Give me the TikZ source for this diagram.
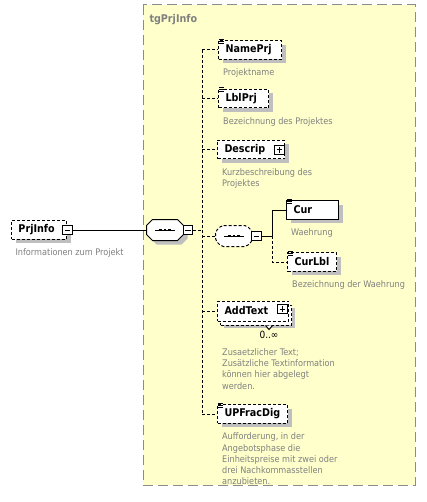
\documentclass[tikz,border=0pt]{standalone}
\usepackage{fontspec}
\setmainfont{DejaVu Sans Condensed}
\usepackage{xcolor}
\usepackage{tikz}
\usetikzlibrary{positioning,shadows}

\definecolor{grpfill}{HTML}{FFFFCC}
\definecolor{grpline}{HTML}{8C8C8C}

\begin{document}
\begin{tikzpicture}[x=0.75pt, y=-0.75pt, line width=0.75pt,
    box/.style={draw, fill=white, dash pattern=on 2.25pt off 1.5pt, align=left,
          minimum height=14pt, inner xsep=5.25pt, inner ysep=0pt,
          font=\fontsize{8}{9}\selectfont\bfseries},
    elem/.style={box, general shadow={fill=black!25, shadow xshift=3pt, shadow yshift=-3pt}},
    must/.style={elem, solid},
    multi/.style={box,
          general shadow={fill=black!25, shadow xshift=5pt, shadow yshift=-5.5pt},
          general shadow={draw, fill=white, dash pattern=on 2.25pt off 1.5pt,
                          shadow xshift=2.25pt, shadow yshift=-3pt}},
    desc/.style={font=\fontsize{6.8}{8.4}\selectfont, text=black!50, align=left, inner sep=0pt},
    tgl/.style={draw, fill=white, solid, minimum size=6.8pt, inner sep=0pt},
    seqbox/.style={minimum width=27pt, minimum height=15pt, inner sep=0pt},
    conn/.style={dash pattern=on 2.25pt off 1.5pt}]
        \useasboundingbox (0,0) rectangle (426,502);

        % Group
        \draw[grpline, fill=grpfill, dash pattern=on 7.5pt off 3.75pt] (143,5) rectangle (415,485);
        \node[anchor=west, inner sep=0pt, text=black!50, font=\fontsize{8}{9}\selectfont\bfseries]
              (grp) at (149,20) {tgPrjInfo};

        % Root
        \node[elem, anchor=west, text width=30.75pt] (prj) at (11,230) {PrjInfo};
        \node[desc, below right=6.5pt and 3pt of prj.south west] {Informationen zum Projekt};

        % Sequences
        \node[seqbox] (seq1) at (165,230) {};
        \node[seqbox] (seq2) at (234,236) {};
        \fill[black!25, transform canvas={shift={(3pt,-3pt)}}]
            ([xshift=4.5pt]seq1.north west) -- ([xshift=-4.5pt]seq1.north east)
            -- ([yshift=-4.5pt]seq1.north east) -- ([yshift=4.5pt]seq1.south east)
            -- ([xshift=-4.5pt]seq1.south east) -- ([xshift=4.5pt]seq1.south west)
            -- ([yshift=4.5pt]seq1.south west) -- ([yshift=-4.5pt]seq1.north west) -- cycle;
        \draw[fill=white]
            ([xshift=4.5pt]seq1.north west) -- ([xshift=-4.5pt]seq1.north east)
            -- ([yshift=-4.5pt]seq1.north east) -- ([yshift=4.5pt]seq1.south east)
            -- ([xshift=-4.5pt]seq1.south east) -- ([xshift=4.5pt]seq1.south west)
            -- ([yshift=4.5pt]seq1.south west) -- ([yshift=-4.5pt]seq1.north west) -- cycle;
        \draw[conn, fill=white, rounded corners=1.5pt]
            ([xshift=4.5pt]seq2.north west) -- ([xshift=-4.5pt]seq2.north east)
            -- ([yshift=-4.5pt]seq2.north east) -- ([yshift=4.5pt]seq2.south east)
            -- ([xshift=-4.5pt]seq2.south east) -- ([xshift=4.5pt]seq2.south west)
            -- ([yshift=4.5pt]seq2.south west) -- ([yshift=-4.5pt]seq2.north west) -- cycle;

        % Children
        \node[elem, anchor=west, text width=36.75pt] (nameprj) at (218,50) {NamePrj};
        \node[desc, below right=6.5pt and 3.5pt of nameprj.south west] {Projektname};

        \node[elem, anchor=west, text width=27pt] (lblprj) at (218,98.5) {LblPrj};
        \node[desc, below right=6.5pt and 3.5pt of lblprj.south west] {Bezeichnung des Projektes};

        \node[elem, anchor=west, text width=39.75pt] (descrip) at (217,149.5) {Descrip};
        \node[desc, below right=6.5pt and 3.5pt of descrip.south west] {Kurzbeschreibung des\\Projektes};

        \node[must, anchor=west, text width=28.5pt] (cur) at (286,210) {Cur};
        \node[desc, below right=6.5pt and 3.5pt of cur.south west] {Waehrung};

        \node[elem, anchor=west, text width=26.25pt] (curlbl) at (287,262) {CurLbl};
        \node[desc, below right=6.5pt and 3.5pt of curlbl.south west] {Bezeichnung der Waehrung};

        \node[multi, anchor=west, text width=42.75pt, minimum height=15pt] (addtext) at (217,311) {AddText};
        \draw[fill=white] ([xshift=9.4pt, yshift=-3pt]addtext.south) -- ++(3.5,4) -- ++(3.5,-4);
        \node[below=6.5pt of addtext, xshift=12pt, inner sep=0pt,
              font=\fontsize{7.5}{8.5}\selectfont] (occ) {0..∞};
        \node[desc, below right=20pt and 3.5pt of addtext.south west]
              {Zusaetzlicher Text;\\Zusätzliche Textinformation\\können hier abgelegt\\werden.};

        \node[elem, anchor=west, text width=42pt] (upfrac) at (217,414) {UPFracDig};
        \node[desc, below right=6.5pt and 3.5pt of upfrac.south west]
              {Aufforderung, in der\\Angebotsphase die\\Einheitspreise mit zwei oder\\drei Nachkommasstellen\\anzubieten.};

        % Toggles
        \node[tgl] (prjm) at (67.5,230) {};
        \node[tgl] (seq1m) at (188,230) {};
        \node[tgl] (seq2m) at (256.5,236) {};
        \node[tgl] (descp) at (279.5,150) {};
        \node[tgl] (addp) at (282.5,309) {};
        \foreach \t in {prjm,seq1m,seq2m,descp,addp}
            \draw ([xshift=-2.2pt]\t.center) -- ([xshift=2.2pt]\t.center);
        \foreach \t in {descp,addp}
            \draw ([yshift=-2.2pt]\t.center) -- ([yshift=2.2pt]\t.center);

        % Sequence marks
        \foreach \s in {seq1,seq2} {
            \draw ([xshift=-7.5pt]\s.center) -- ([xshift=7.5pt]\s.center);
            \foreach \dx in {-3.4,0,3.4}
                \fill ([xshift=\dx pt]\s.center) ++(-1.4,-1.4) rectangle ++(2.8,2.8);
        }

        % Simple type marks
        \foreach \n in {nameprj,lblprj,cur,curlbl,upfrac}
            \foreach \dy in {0.75,-0.75,-2.25}
                \draw[line width=0.5pt] ([xshift=0.75pt, yshift=\dy pt]\n.north west) -- ++(5,0);

        % Connectors
        \coordinate (trunk) at (202,230);
        \coordinate (fork) at (272,236);
        \draw (prjm) -- (seq1);
        \draw[conn] (seq1m) -- (trunk);
        \draw[conn] (trunk |- nameprj) -- (trunk |- upfrac);
        \foreach \n in {nameprj,lblprj,descrip,seq2,addtext,upfrac}
            \draw[conn] (trunk |- \n) -- (\n);
        \draw (seq2m) -- (fork) |- (cur);
        \draw[conn] (fork) |- (curlbl);
    \end{tikzpicture}
\end{document}
